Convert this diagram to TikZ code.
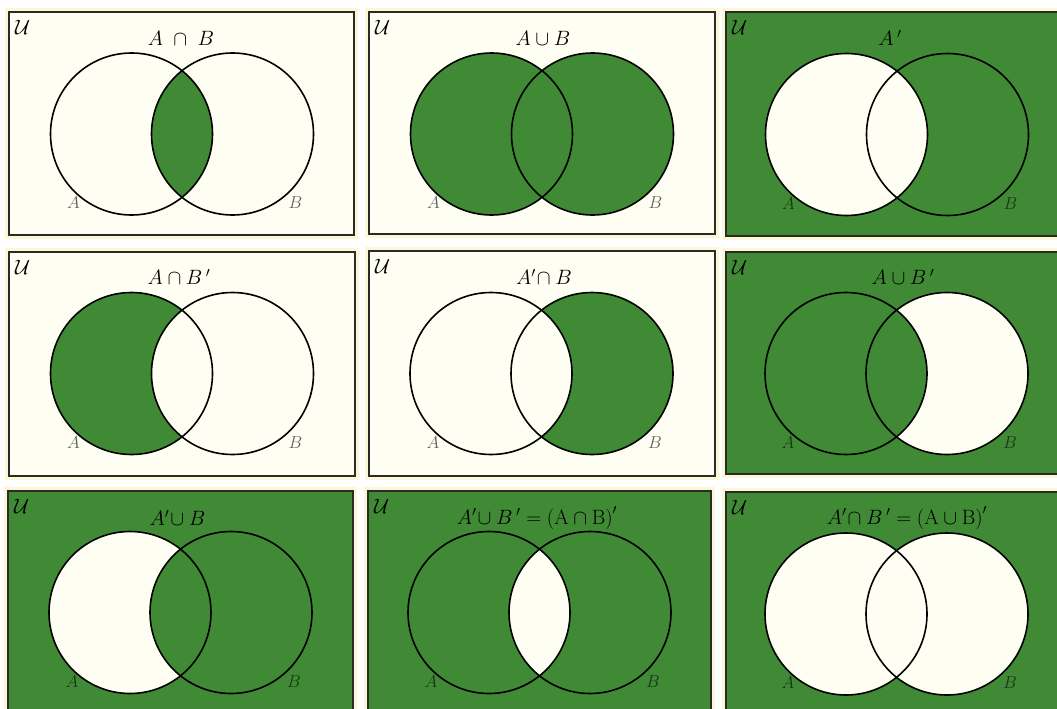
\documentclass[tikz,border=0pt]{standalone}
\usepackage{amsmath}
\definecolor{vgreen}{RGB}{64,138,54}
\definecolor{cream}{RGB}{254,254,242}
\definecolor{halo}{RGB}{252,247,212}
\definecolor{framec}{RGB}{42,42,42}
\tikzset{
  panelbox/.style={draw=framec, line width=2pt},
  ring/.style={draw=black, line width=1.6pt},
  titletext/.style={font=\fontsize{20}{24}\selectfont, inner sep=0pt},
  unilabel/.style={font=\fontsize{21}{24}\selectfont, inner sep=0pt, anchor=north west},
  setlabel/.style={font=\fontsize{19}{22}\selectfont, inner sep=0pt, text opacity=0.62},
}
% #1 left, #2 top, #3 right, #4 bottom, #5 bg colour
\newcommand\vennbg[5]{%
  \fill[halo] (#1-4,#2-4) rectangle (#3+4,#4+4);
  \fill[#5] (#1,#2) rectangle (#3,#4);
}
% #1 name, #2 left, #3 top, #4 right, #5 bottom, #6 Ax, #7 cy
\newcommand\vennfront[7]{%
  \draw[ring] (#6,#7) circle[radius=81pt];
  \draw[ring] (#6+101,#7) circle[radius=81pt];
  \draw[panelbox] (#2,#3) rectangle (#4,#5);
  \node[unilabel] (#1U) at (#2+6,#3+8) {$\mathcal{U}$};
  \node[setlabel] (#1A) at (#6-58,#7+69) {$A$};
  \node[setlabel] (#1B) at (#6+164,#7+69) {$B$};
}
\begin{document}
\begin{tikzpicture}[x=1pt,y=-1pt]
\fill[white] (0,0) rectangle (1057,709);
\clip (0,0) rectangle (1057,709);

% ---------- Panel 1: A cap B
\vennbg{9}{12}{354}{235}{cream}
\begin{scope}
  \clip (131.5,134) circle[radius=81pt];
  \fill[vgreen] (232.5,134) circle[radius=81pt];
\end{scope}
\vennfront{p1}{9}{12}{354}{235}{131.5}{134}
\node[titletext] (p1t) at (181,38) {$A\;\cap\;B$};

% ---------- Panel 2: A cup B
\vennbg{369}{12}{715}{234}{cream}
\fill[vgreen] (491.5,134) circle[radius=81pt];
\fill[vgreen] (592.5,134) circle[radius=81pt];
\vennfront{p2}{369}{12}{715}{234}{491.5}{134}
\node[titletext] (p2t) at (543,38) {$A\cup B$};

% ---------- Panel 3: A'
\vennbg{726}{12}{1062}{236}{vgreen}
\fill[cream] (846.5,134.5) circle[radius=81pt];
\vennfront{p3}{726}{12}{1062}{236}{846.5}{134.5}
\node[titletext] (p3t) at (890,38) {$A\,'$};

% ---------- Panel 4: A cap B'
\vennbg{9}{252}{355}{476}{cream}
\fill[vgreen] (131.5,373.5) circle[radius=81pt];
\fill[cream] (232.5,373.5) circle[radius=81pt];
\vennfront{p4}{9}{252}{355}{476}{131.5}{373.5}
\node[titletext] (p4t) at (179,277) {$A\cap B\,'$};

% ---------- Panel 5: A' cap B
\vennbg{369}{251}{715}{476}{cream}
\fill[vgreen] (592,373.5) circle[radius=81pt];
\fill[cream] (491,373.5) circle[radius=81pt];
\vennfront{p5}{369}{251}{715}{476}{491}{373.5}
\node[titletext] (p5t) at (544,277) {$A'\!\cap B$};

% ---------- Panel 6: A cup B'
\vennbg{726}{252}{1062}{474}{vgreen}
\fill[cream] (947,373.5) circle[radius=81pt];
\fill[vgreen] (846,373.5) circle[radius=81pt];
\vennfront{p6}{726}{252}{1062}{474}{846}{373.5}
\node[titletext] (p6t) at (903,277) {$A\cup B\,'$};

% ---------- Panel 7: A' cup B
\vennbg{8}{491}{353}{715}{vgreen}
\fill[cream] (130,612.5) circle[radius=81pt];
\fill[vgreen] (231,612.5) circle[radius=81pt];
\vennfront{p7}{8}{491}{353}{715}{130}{612.5}
\node[titletext] (p7t) at (177.5,518) {$A'\!\cup B$};

% ---------- Panel 8: A' cup B' = (A cap B)'
\vennbg{368}{491}{711}{715}{vgreen}
\begin{scope}
  \clip (489,612.5) circle[radius=81pt];
  \fill[cream] (590,612.5) circle[radius=81pt];
\end{scope}
\vennfront{p8}{368}{491}{711}{715}{489}{612.5}
\node[titletext] (p8t) at (537,518) {$A'\!\cup B\,' = \mathrm{(A\cap B)}'$};

% ---------- Panel 9: A' cap B' = (A cup B)'
\vennbg{726}{492}{1062}{715}{vgreen}
\fill[cream] (846,614) circle[radius=81pt];
\fill[cream] (947,614) circle[radius=81pt];
\vennfront{p9}{726}{492}{1062}{715}{846}{614}
\node[titletext] (p9t) at (907,518) {$A'\!\cap B\,' = \mathrm{(A\cup B)}'$};
\end{tikzpicture}
\end{document}
